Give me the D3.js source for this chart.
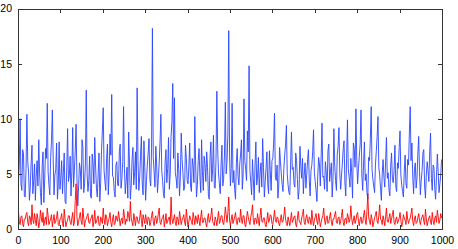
<!DOCTYPE html>
<html>
<head>
<meta charset="utf-8">
<script src="https://cdn.jsdelivr.net/npm/d3@7"></script>
<style>
  body { margin: 0; background: #fff; }
  text { font-family: "Liberation Sans", Arial, sans-serif; font-size: 10.5px; fill: #000; }
</style>
</head>
<body>
<div id="chart"></div>
<script>
var step = 2

var blueVals = [
  4.2, 5.8, 10.0, 4.1, 3.5, 7.2, 6.8, 3.0, 2.9, 5.5, 10.4, 6.1, 5.1, 2.6, 3.8, 6.0, 7.6, 3.2, 4.4, 5.9,
  2.6, 4.8, 6.2, 3.9, 8.1, 5.0, 3.3, 2.2, 5.7, 7.0, 2.4, 4.5, 7.3, 6.4, 11.4, 5.2, 4.0, 3.1, 6.5, 8.0,
  10.8, 6.3, 3.1, 4.9, 5.4, 7.8, 2.7, 4.0, 7.9, 3.6, 4.6, 6.2, 3.2, 5.1, 6.9, 2.5, 2.3, 5.6, 9.1, 4.3,
  4.8, 6.6, 3.0, 5.2, 9.2, 3.8, 5.3, 7.1, 9.5, 4.6, 2.1, 3.9, 6.0, 5.4, 3.6, 8.1, 7.4, 3.3, 4.1, 6.0,
  12.6, 5.0, 3.4, 4.4, 6.6, 3.0, 2.8, 6.8, 5.9, 4.1, 8.3, 5.7, 3.7, 2.9, 5.0, 6.9, 2.5, 4.2, 7.1, 8.9,
  11.0, 5.3, 4.3, 3.5, 6.4, 7.7, 3.1, 5.0, 8.6, 6.7, 12.2, 4.8, 4.7, 3.4, 2.9, 5.8, 6.1, 4.0, 3.9, 7.0,
  7.7, 3.7, 4.5, 6.1, 11.1, 5.5, 3.2, 4.3, 5.6, 2.8, 8.8, 6.0, 2.7, 3.9, 6.3, 7.4, 4.0, 5.1, 7.0, 3.6,
  12.8, 6.2, 3.5, 4.7, 6.7, 8.4, 4.2, 3.1, 8.0, 5.6, 2.6, 4.4, 5.8, 6.9, 8.2, 4.5, 3.9, 7.3, 18.2, 6.5,
  5.2, 3.8, 7.5, 5.9, 3.3, 4.6, 6.0, 7.9, 10.4, 5.3, 4.4, 3.2, 2.8, 6.1, 7.2, 4.2, 5.5, 8.3, 3.6, 5.0,
  8.4, 9.7, 13.2, 6.4, 11.9, 5.1, 4.6, 3.7, 6.9, 5.5, 3.0, 4.8, 8.7, 6.3, 5.1, 3.5, 3.8, 7.6, 6.5, 4.4,
  4.1, 5.7, 7.8, 3.9, 3.4, 6.4, 5.7, 4.2, 10.2, 5.8, 2.9, 4.0, 6.2, 7.3, 4.8, 3.3, 8.1, 5.2, 3.5, 6.6,
  5.9, 4.3, 7.0, 5.6, 3.1, 2.7, 6.6, 7.9, 4.3, 5.4, 8.5, 3.8, 3.7, 6.3, 12.5, 7.1, 5.0, 4.1, 3.2, 5.9,
  7.6, 3.9, 4.5, 6.8, 11.5, 5.0, 6.1, 8.6, 18.0, 6.7, 3.9, 5.5, 11.4, 4.2, 5.3, 3.6, 2.7, 6.0, 7.3, 4.8,
  4.0, 5.9, 6.8, 8.1, 3.6, 4.9, 11.8, 6.2, 5.4, 4.4, 8.9, 7.0, 14.8, 5.3, 4.2, 3.1, 6.3, 4.6, 2.6, 5.8,
  7.9, 4.0, 4.7, 6.5, 3.3, 5.1, 6.0, 3.8, 8.2, 5.6, 2.9, 4.3, 5.5, 7.0, 4.1, 3.2, 7.1, 5.3, 3.5, 6.2,
  6.4, 7.9, 10.5, 4.7, 4.4, 5.8, 2.8, 3.9, 7.4, 6.1, 5.0, 4.0, 3.4, 5.5, 6.7, 7.6, 9.4, 5.0, 4.0, 3.3,
  3.1, 6.0, 8.8, 5.4, 5.6, 4.1, 3.8, 6.9, 6.2, 4.5, 2.7, 3.6, 7.5, 5.7, 4.6, 6.4, 3.2, 4.9, 6.0, 3.7,
  4.9, 6.3, 7.2, 4.4, 3.0, 5.3, 5.8, 7.0, 9.0, 5.1, 4.3, 3.5, 2.5, 4.8, 6.5, 5.9, 3.9, 6.6, 9.6, 4.7,
  4.8, 3.6, 6.1, 5.2, 3.4, 7.1, 7.7, 4.3, 5.2, 6.0, 2.9, 4.6, 9.1, 5.8, 4.4, 3.5, 6.8, 7.5, 9.2, 5.0,
  3.6, 4.9, 5.9, 7.3, 8.0, 4.2, 3.0, 6.4, 9.9, 5.5, 4.7, 3.8, 6.4, 5.1, 2.8, 7.8, 7.3, 5.6, 10.9, 6.2,
  4.1, 5.5, 6.6, 7.7, 10.8, 4.8, 3.5, 5.9, 7.9, 4.4, 5.0, 3.3, 2.7, 6.5, 6.2, 8.2, 11.1, 5.4, 4.5, 3.9,
  3.3, 5.8, 7.0, 8.4, 10.2, 5.6, 4.9, 3.7, 2.6, 5.0, 6.3, 4.7, 3.8, 6.1, 8.3, 4.6, 5.1, 3.5, 3.0, 5.7,
  6.9, 4.5, 4.2, 5.3, 7.6, 3.9, 3.4, 6.0, 5.5, 7.4, 8.9, 4.9, 4.0, 3.4, 2.9, 5.2, 6.7, 4.1, 3.7, 6.3,
  5.8, 8.7, 11.1, 6.2, 7.8, 4.8, 3.2, 5.4, 6.0, 3.7, 4.6, 6.8, 8.4, 5.2, 3.1, 4.4, 5.3, 6.9, 7.2, 3.9,
  2.8, 4.9, 6.1, 5.3, 4.3, 7.0, 8.7, 4.6, 3.5, 5.8, 5.6, 3.6, 2.7, 4.8, 6.8, 5.2, 3.3, 4.1, 4.9, 6.3
]

var redVals = [
  1.6, 0.7, 0.4, 1.1, 1.2, 0.5, 0.2, 0.9, 0.9, 1.3, 1.5, 0.6, 0.3, 1.2, 1.0, 0.4, 2.2, 0.8, 0.5, 1.4,
  0.8, 0.3, 1.4, 0.9, 0.1, 0.6, 1.7, 1.0, 0.6, 1.5, 0.3, 0.8, 1.1, 0.4, 1.9, 1.2, 0.4, 0.7, 0.9, 1.3,
  0.2, 0.8, 1.3, 0.5, 0.7, 1.1, 1.6, 0.4, 0.3, 0.9, 1.0, 1.4, 0.5, 0.2, 1.8, 0.9, 0.2, 0.6, 0.8, 1.2,
  1.2, 0.6, 0.4, 1.0, 1.5, 0.3, 0.6, 2.6, 4.1, 1.1, 0.3, 0.7, 1.1, 1.5, 0.7, 0.4, 1.9, 1.0, 0.2, 0.8,
  0.9, 1.2, 1.4, 0.6, 0.5, 0.9, 1.0, 1.3, 0.2, 0.7, 1.7, 0.5, 0.6, 1.0, 1.2, 0.4, 0.3, 1.1, 0.8, 0.5,
  1.9, 0.9, 0.4, 1.3, 1.1, 0.3, 0.7, 1.0, 1.5, 0.6, 0.2, 0.9, 1.3, 0.4, 0.5, 1.2, 0.9, 0.7, 1.6, 1.0,
  0.3, 0.8, 1.0, 0.5, 1.8, 1.2, 0.4, 0.9, 0.7, 1.6, 1.2, 0.7, 2.5, 1.0, 0.6, 0.3, 1.4, 0.9, 0.3, 1.1,
  1.1, 0.6, 0.5, 1.0, 1.7, 0.8, 0.2, 1.3, 0.9, 0.5, 1.3, 0.8, 0.4, 1.1, 1.0, 0.3, 0.6, 1.2, 1.6, 0.7,
  0.3, 1.0, 1.2, 0.5, 0.8, 1.4, 1.9, 0.6, 0.4, 0.9, 1.0, 1.3, 0.2, 0.7, 1.4, 0.5, 0.7, 1.0, 1.1, 0.4,
  2.9, 1.0, 0.5, 0.9, 1.3, 0.6, 0.3, 1.1, 0.9, 0.4, 1.6, 1.0, 0.4, 0.8, 1.0, 1.3, 0.6, 0.3, 1.8, 0.9,
  0.2, 0.7, 1.2, 0.9, 0.7, 0.4, 1.5, 1.0, 0.4, 1.2, 0.9, 0.5, 1.3, 0.8, 0.3, 1.1, 1.7, 0.6, 0.6, 1.0,
  1.0, 0.5, 0.2, 0.9, 1.4, 0.6, 0.8, 1.2, 1.9, 0.7, 0.5, 0.3, 1.1, 0.8, 0.3, 1.0, 1.6, 0.5, 0.7, 1.2,
  1.2, 0.6, 0.4, 1.0, 2.0, 1.3, 0.6, 1.5, 2.9, 0.8, 0.3, 0.9, 1.3, 0.5, 0.8, 1.1, 1.5, 0.7, 0.4, 1.0,
  1.0, 0.6, 1.8, 0.9, 0.5, 1.2, 1.2, 0.4, 0.2, 0.9, 1.6, 1.1, 0.7, 0.4, 1.1, 1.5, 2.2, 0.8, 0.4, 1.0,
  0.9, 0.5, 1.4, 0.8, 0.3, 1.2, 1.9, 0.7, 0.6, 1.0, 1.0, 0.4, 0.2, 0.8, 1.5, 0.6, 0.8, 1.3, 1.2, 0.5,
  0.4, 1.0, 1.7, 0.8, 0.6, 1.1, 1.0, 0.5, 0.3, 0.9, 1.3, 0.6, 0.7, 1.2, 2.0, 0.9, 0.5, 0.3, 1.1, 0.7,
  0.3, 0.9, 1.5, 0.6, 0.8, 1.1, 1.2, 0.4, 0.2, 1.0, 1.6, 0.8, 0.6, 0.4, 1.0, 1.3, 1.8, 0.6, 0.4, 1.0,
  1.3, 0.7, 0.5, 1.1, 0.9, 0.4, 1.7, 0.9, 0.3, 0.8, 1.1, 1.4, 0.7, 0.4, 1.4, 0.9, 0.2, 0.6, 1.0, 1.2,
  1.9, 0.8, 0.4, 1.0, 1.2, 0.5, 0.6, 1.1, 1.5, 0.7, 0.3, 0.9, 0.9, 1.3, 1.6, 0.6, 0.5, 1.0, 1.1, 0.4,
  0.7, 1.2, 1.8, 0.6, 0.3, 0.9, 1.0, 0.5, 1.4, 1.1, 0.6, 0.9, 2.1, 1.0, 0.4, 0.8, 1.2, 0.5, 0.8, 1.3,
  1.5, 0.7, 0.3, 0.9, 1.1, 0.5, 0.6, 1.2, 1.7, 0.8, 0.4, 1.6, 3.2, 1.1, 0.7, 0.4, 1.3, 0.9, 0.2, 0.6,
  1.0, 1.3, 1.6, 0.7, 0.5, 1.2, 2.2, 0.9, 0.8, 0.4, 1.2, 0.8, 0.3, 1.1, 1.9, 0.7, 0.6, 1.0, 1.4, 0.5,
  0.9, 1.3, 1.7, 0.6, 0.4, 0.9, 1.1, 0.5, 0.7, 1.0, 1.5, 0.8, 0.2, 0.6, 1.3, 1.0, 0.8, 0.4, 1.6, 0.9,
  0.5, 0.8, 1.0, 1.4, 1.9, 0.7, 0.3, 0.9, 1.2, 0.5, 0.6, 1.0, 1.4, 0.8, 0.4, 0.9, 1.1, 1.3, 0.7, 0.4,
  1.8, 0.9, 0.3, 0.7, 1.0, 1.2, 0.6, 0.4, 1.5, 0.8, 0.4, 1.0, 1.2, 0.6, 1.7, 1.1, 0.5, 0.8, 1.4, 1.0
]

var xTicks = [0, 100, 200, 300, 400, 500, 600, 700, 800, 900, 1000]
var yTicks = [0, 5, 10, 15, 20]

var width = 458
var height = 249

var x = d3.scaleLinear().domain([0, 1000]).range([18, 442])
var y = d3.scaleLinear().domain([0, 20]).range([229, 8.5])

var svg = d3.select('#chart')
    .append('svg')
    .attr('width', width)
    .attr('height', height)

// line generator, x is sample index times step
var line = d3.line()
    .x(function (d, i) { return x(i * step + 1) })
    .y(function (d) { return y(d) })

svg.append('path')
    .datum(blueVals)
    .attr('d', line)
    .attr('fill', 'none')
    .attr('stroke', '#2a45ff')
    .attr('stroke-width', 0.9)

svg.append('path')
    .datum(redVals)
    .attr('d', line)
    .attr('fill', 'none')
    .attr('stroke', '#ff0000')
    .attr('stroke-width', 0.9)

// axes, ticks pointing inwards like matlab
var fmt = d3.format('d')
svg.append('g')
    .attr('transform', 'translate(0,' + y(0) + ')')
    .call(d3.axisBottom(x).tickValues(xTicks).tickSize(-4).tickPadding(8).tickFormat(fmt))
svg.append('g')
    .attr('transform', 'translate(0,' + y(20) + ')')
    .call(d3.axisTop(x).tickValues(xTicks).tickSize(-4).tickFormat(''))
svg.append('g')
    .attr('transform', 'translate(' + x(0) + ',0)')
    .call(d3.axisLeft(y).tickValues(yTicks).tickSize(-4).tickPadding(6).tickFormat(fmt))
svg.append('g')
    .attr('transform', 'translate(' + x(1000) + ',0)')
    .call(d3.axisRight(y).tickValues(yTicks).tickSize(-4).tickFormat(''))

svg.selectAll('.domain')
    .attr('stroke', '#333')
    .attr('shape-rendering', 'crispEdges')
svg.selectAll('.tick line')
    .attr('stroke', '#333')
    .attr('shape-rendering', 'crispEdges')
svg.selectAll('.tick text')
    .style('font-size', '10.5px')
    .attr('fill', '#000')
</script>
</body>
</html>
